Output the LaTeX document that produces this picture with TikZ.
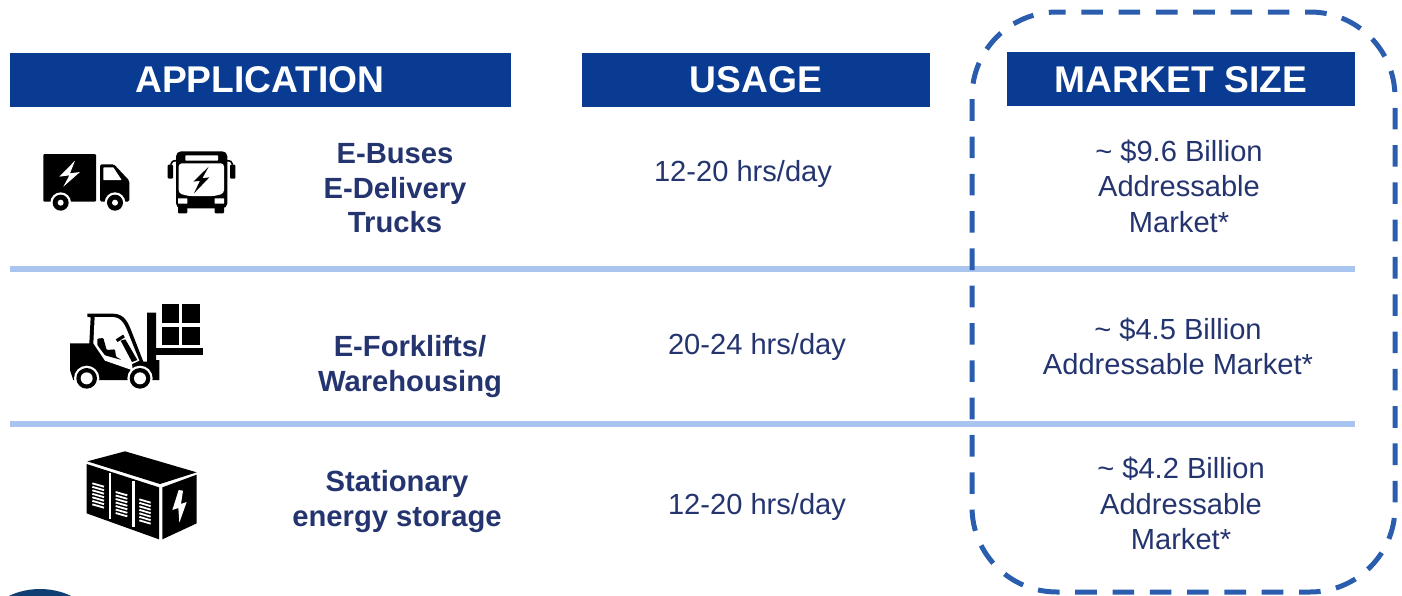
\documentclass[tikz,border=0pt]{standalone}
\usepackage{fontspec}
\setmainfont{Liberation Sans}
\definecolor{headblue}{HTML}{083B91}
\definecolor{textblue}{HTML}{24346F}
\definecolor{ruleblue}{HTML}{A9C4EF}
\definecolor{dashblue}{HTML}{2A5DAE}
\definecolor{dotblue}{HTML}{0F3F73}
\tikzset{
  headbox/.style={fill=headblue,draw=none},
  headtext/.style={anchor=base,text=white,font=\fontsize{18.6}{18}\selectfont\bfseries,inner sep=0pt},
  apptext/.style={anchor=base,text=textblue,font=\fontsize{14.6}{15}\selectfont\bfseries,inner sep=0pt},
  valtext/.style={anchor=base,text=textblue,font=\fontsize{14.55}{15}\selectfont,inner sep=0pt},
  rowrule/.style={draw=ruleblue,line width=3pt},
  marketbox/.style={draw=dashblue,line width=2.5pt,dash pattern=on 10.8pt off 7.85pt,dash phase=6.5pt},
  icon/.style={x=0.16667pt,y=-0.16667pt},
}
\begin{document}
\begin{tikzpicture}[x=0.5pt,y=-0.5pt]
\useasboundingbox (0,0) rectangle (1402,595);
\clip (0,0) rectangle (1402,595);
% header bars
\fill[headbox] (10,53) rectangle (511,107);
\fill[headbox] (582,53) rectangle (930,107);
\fill[headbox] (1007,52) rectangle (1355,106);
\node[headtext] (h1) at (260,92) {APPLICATION};
\node[headtext] (h2) at (756,92) {USAGE};
\node[headtext] (h3) at (1181,92) {MARKET SIZE};
% rules
\draw[rowrule] (10,269) -- (1355,269);
\draw[rowrule] (10,424) -- (1355,424);
% dashed market outline
\draw[marketbox] (1057,12) -- (1310,12) .. controls (1357,12) and (1395,50) .. (1395,97) -- (1395,507) .. controls (1395,554) and (1357,592) .. (1310,592) -- (1057,592) .. controls (1010,592) and (972,554) .. (972,507) -- (972,97) .. controls (972,50) and (1010,12) .. (1057,12) -- cycle;
% texts
\node[apptext] (a1) at (395,163) {E-Buses};
\node[apptext] (a2) at (395,198) {E-Delivery};
\node[apptext] (a3) at (395,232) {Trucks};
\node[apptext] (a4) at (410,356) {E-Forklifts/};
\node[apptext] (a5) at (410,391) {Warehousing};
\node[apptext] (a6) at (397,491) {Stationary};
\node[apptext] (a7) at (397,526) {energy storage};
\node[valtext] (u1) at (743,181) {12-20 hrs/day};
\node[valtext] (u2) at (757,354) {20-24 hrs/day};
\node[valtext] (u3) at (757,514) {12-20 hrs/day};
\node[valtext] (m1) at (1179,161) {\textasciitilde{} \$9.6 Billion};
\node[valtext] (m2) at (1179,196) {Addressable};
\node[valtext] (m3) at (1179,232) {Market*};
\node[valtext] (m4) at (1178,339) {\textasciitilde{} \$4.5 Billion};
\node[valtext] (m5) at (1178,374) {Addressable Market*};
\node[valtext] (m6) at (1181,478) {\textasciitilde{} \$4.2 Billion};
\node[valtext] (m7) at (1181,514) {Addressable};
\node[valtext] (m8) at (1181,549) {Market*};
% truck and bus icons
\begin{scope}[shift={(20,130)},icon]
 \fill[rounded corners=.5pt] (70,72) rectangle (228,215);
 \fill[rounded corners=.8pt] (240,103) -- (282,103) -- (328,152) -- (328,215) -- (240,215) -- cycle;
 \fill[white,rounded corners=.3pt] (250,112) -- (280,112) -- (305,150) -- (250,150) -- cycle;
 \fill[white] (165,92) -- (118,140) -- (148,136) -- (130,170) -- (180,126) -- (150,130) -- cycle;
 \foreach \cx in {122,285}{
  \fill[white] (\cx,218) circle (31);
  \fill (\cx,218) circle (24);
  \fill[white] (\cx,218) circle (9);
 }
 % bus
 \fill[rounded corners=2.5pt] (468,64) -- (622,64) -- (622,235) -- (468,235) -- cycle;
 \fill[rounded corners=.5pt] (474,225) rectangle (502,250);
 \fill[rounded corners=.5pt] (584,225) rectangle (612,250);
 \fill[rounded corners=.5pt] (443,104) rectangle (459,146);
 \fill[rounded corners=.5pt] (630,104) rectangle (646,146);
 \draw[line width=.8pt] (452,104) .. controls (452,95) and (460,92) .. (470,92);
 \draw[line width=.8pt] (638,104) .. controls (638,95) and (630,92) .. (620,92);
 \fill[white,rounded corners=.3pt] (496,76) rectangle (594,92);
 \fill[white,rounded corners=1.6pt] (476,100) -- (612,100) -- (612,190) -- (585,198) -- (505,198) -- (476,190) -- cycle;
 \fill[white,rounded corners=.2pt] (474,205) rectangle (502,221);
 \fill[white,rounded corners=.2pt] (584,205) rectangle (612,221);
 \fill (566,110) -- (520,155) -- (540,152) -- (522,190) -- (568,142) -- (547,145) -- cycle;
\end{scope}
% forklift icon
\begin{scope}[shift={(50,290)},icon]
 \fill (336,42) rectangle (388,98);
 \fill (397,42) rectangle (450,98);
 \fill (336,110) rectangle (388,166);
 \fill (397,110) rectangle (450,166);
 \fill (318,175) rectangle (458,196);
 \fill (291,68) -- (318,68) -- (318,210) -- (328,210) -- (328,270) -- (291,270) -- cycle;
 \fill (60,160) -- (118,160) -- (122,82) -- (112,80) -- (112,71) -- (190,71) .. controls (225,72) and (235,100) .. (245,125) -- (280,215) -- (300,215) -- (300,270) -- (70,270) -- (60,240) -- cycle;
 \fill[white] (134,81) -- (188,81) .. controls (215,82) and (225,105) .. (235,130) -- (268,212) -- (246,222) -- (248,238) -- (245,240) -- (165,212) -- (130,160) -- cycle;
 \fill[rounded corners=.5pt] (142,146) -- (160,144) -- (170,180) -- (195,178) -- (198,200) -- (215,210) -- (165,196) -- (142,165) -- cycle;
 \draw[line width=1.6pt] (200,152) -- (222,138);
 \fill (212,152) -- (226,148) -- (262,210) -- (246,216) -- cycle;
 \foreach \cx in {110,270}{
  \fill[white] (\cx,265) circle (38);
  \fill (\cx,265) circle (31);
  \fill[white] (\cx,265) circle (18);
 }
\end{scope}
% container icon
\begin{scope}[shift={(0,440)},icon]
 \fill (262,64) -- (375,34) -- (590,97) -- (480,132) -- cycle;
 \fill (260,72) -- (477,142) -- (477,298) -- (260,220) -- cycle;
 \fill (487,142) -- (590,104) -- (590,250) -- (487,298) -- cycle;
 \draw[white,line width=1.4pt] (330,100) -- (330,236);
 \draw[white,line width=1.4pt] (400,124) -- (400,260);
 \foreach \i in {0,...,6}{
  \draw[white,line width=.9pt] (277,{130+10.5*\i}) -- (312,{140+10.5*\i});
  \draw[white,line width=.9pt] (347,{156+10.5*\i}) -- (382,{166+10.5*\i});
  \draw[white,line width=.9pt] (418,{178+10.5*\i}) -- (452,{188+10.5*\i});
 }
 \fill[white] (536,150) -- (517,210) -- (535,204) -- (538,248) -- (560,186) -- (543,192) -- (549,152) -- cycle;
 \fill[dotblue] (120,666) circle (219);
\end{scope}
\end{tikzpicture}
\end{document}
